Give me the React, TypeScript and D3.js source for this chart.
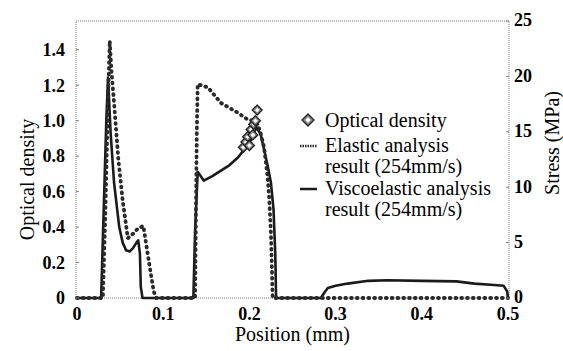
import * as d3 from "d3";

// Elastic analysis result (254mm/s), stress in MPa
const elasticX = [0, 0.03, 0.033, 0.036, 0.038, 0.04, 0.043, 0.048, 0.053, 0.059, 0.065, 0.071, 0.077, 0.081, 0.085, 0.089, 0.092, 0.137, 0.138, 0.139, 0.14, 0.152, 0.167, 0.187, 0.198, 0.205, 0.212, 0.217, 0.221, 0.223, 0.225, 0.227, 0.5];
const elasticY = [0, 0, 8, 18, 23.2, 20.5, 17.6, 12.5, 8.8, 5.4, 5.8, 6.3, 6.5, 4.5, 2.5, 0.6, 0, 0, 8, 15, 19.3, 19.0, 17.6, 16.7, 16.1, 16.0, 15.2, 13.6, 11, 9, 5.8, 0, 0];

// Viscoelastic analysis result (254mm/s), stress in MPa
const viscoX = [0, 0.028, 0.031, 0.034, 0.036, 0.039, 0.043, 0.049, 0.053, 0.057, 0.061, 0.065, 0.069, 0.071, 0.073, 0.074, 0.076, 0.135, 0.137, 0.14, 0.147, 0.157, 0.167, 0.177, 0.187, 0.195, 0.202, 0.208, 0.213, 0.217, 0.221, 0.225, 0.228, 0.23, 0.231, 0.283, 0.287, 0.291, 0.3, 0.314, 0.338, 0.36, 0.4, 0.44, 0.461, 0.48, 0.495, 0.499, 0.5];
const viscoY = [0, 0, 8, 16, 19.9, 14.9, 10.4, 6.4, 5.0, 4.3, 4.2, 4.5, 5.0, 5.2, 4, 1, 0, 0, 6, 11.4, 10.6, 11.0, 11.5, 12.0, 12.7, 13.5, 14.3, 15.4, 14.8, 13.4, 12, 10.4, 8, 4, 0, 0, 0.5, 0.9, 1.1, 1.3, 1.55, 1.6, 1.55, 1.5, 1.3, 1.2, 1.1, 0.6, 0];

// Optical density measurements
const odX = [0.193, 0.196, 0.198, 0.2, 0.202, 0.204, 0.205, 0.207, 0.209];
const odY = [0.85, 0.88, 0.91, 0.86, 0.95, 0.92, 0.98, 1.0, 1.06];

const xTicks = [0, 0.1, 0.2, 0.3, 0.4, 0.5];
const leftTicks = [0, 0.2, 0.4, 0.6, 0.8, 1.0, 1.2, 1.4];
const rightTicks = [0, 5, 10, 15, 20, 25];

const W = 563;
const H = 351;
const frame = { left: 76, right: 509, top: 21, bottom: 298 };
const serif = {
  fontFamily: "'Liberation Serif', LiberationSerif, Tinos, 'Times New Roman', Times, 'DejaVu Serif', 'Noto Serif', FreeSerif, serif",
};

function Diamond({ cx, cy, r }: { cx: number; cy: number; r: number }) {
  const p = (s: number) => `M${cx},${cy - s}L${cx + s},${cy}L${cx},${cy + s}L${cx - s},${cy}Z`;
  return (
    <g>
      <path d={p(r)} fill="#8a8a8a" stroke="#222" strokeWidth={1.3} />
      <path d={p(r * 0.45)} fill="#fff" />
    </g>
  );
}

export default function App() {
  const x = d3.scaleLinear().domain([0, 0.5]).range([frame.left + 1, frame.right - 1]);
  const yLeft = d3.scaleLinear().domain([0, 1.5625]).range([frame.bottom, frame.top]);
  const yRight = d3.scaleLinear().domain([0, 25]).range([frame.bottom, frame.top]);

  const line = d3
    .line<[number, number]>()
    .x((d) => x(d[0]))
    .y((d) => yRight(d[1]));

  const elastic = line(elasticX.map((v, i) => [v, elasticY[i]] as [number, number])) ?? "";
  const visco = line(viscoX.map((v, i) => [v, viscoY[i]] as [number, number])) ?? "";

  return (
    <svg width={W} height={H} style={{ position: "absolute", left: 0, top: 0, background: "#fff", ...serif }}>
      {/* plot frame */}
      <rect
        x={frame.left}
        y={frame.top}
        width={frame.right - frame.left}
        height={frame.bottom - frame.top}
        fill="none"
        stroke="#777"
        strokeWidth={1}
        strokeDasharray="1 1"
      />

      {/* curves */}
      <path d={visco} fill="none" stroke="#1a1a1a" strokeWidth={2.6} strokeLinejoin="round" />
      <path
        d={elastic}
        fill="none"
        stroke="#2a2a2a"
        strokeWidth={3.8}
        strokeLinecap="round"
        strokeDasharray="0.8 5"
      />

      {odX.map((v, i) => (
        <Diamond key={i} cx={x(v)} cy={yLeft(odY[i])} r={5} />
      ))}

      {/* left axis */}
      {leftTicks.map((t) => (
        <g key={t}>
          <line x1={frame.left} x2={frame.left + 3} y1={yLeft(t)} y2={yLeft(t)} stroke="#777" />
          <text x={65} y={yLeft(t)} dy="0.35em" textAnchor="end" fontSize={18} fontWeight="bold" style={serif}>
            {t === 0 ? "0" : t.toFixed(1)}
          </text>
        </g>
      ))}
      <text
        transform={`translate(27,${(frame.top + frame.bottom) / 2 + 20}) rotate(-90)`}
        textAnchor="middle"
        dy="0.35em"
        fontSize={20}
        style={serif}
      >
        Optical density
      </text>

      {/* right axis */}
      {rightTicks.map((t) => (
        <g key={t}>
          <line x1={frame.right - 3} x2={frame.right} y1={yRight(t)} y2={yRight(t)} stroke="#777" />
          <text x={frame.right + 5} y={yRight(t) - 1} dy="0.35em" textAnchor="start" fontSize={18} fontWeight="bold" style={serif}>
            {t}
          </text>
        </g>
      ))}
      <text transform="translate(552,143) rotate(-90)" textAnchor="middle" dy="0.35em" fontSize={20} style={serif}>
        Stress (MPa)
      </text>

      {/* bottom axis */}
      {xTicks.map((t) => (
        <text key={t} x={x(t)} y={320} textAnchor="middle" fontSize={18} fontWeight="bold" style={serif}>
          {t === 0 ? "0" : t.toFixed(1)}
        </text>
      ))}
      <text x={(frame.left + frame.right) / 2} y={341} textAnchor="middle" fontSize={20} style={serif}>
        Position (mm)
      </text>

      {/* legend */}
      <Diamond cx={308} cy={120} r={6} />
      <g fontSize={20} style={serif}>
        <text x={325} y={120} dy="0.35em">Optical density</text>
        <line x1={300} x2={317} y1={146} y2={146} stroke="#2a2a2a" strokeWidth={2.5} strokeDasharray="1.5 1" />
        <text x={325} y={145} dy="0.35em">Elastic analysis</text>
        <text x={325} y={166} dy="0.35em">result (254mm/s)</text>
        <line x1={300} x2={317} y1={189} y2={189} stroke="#1a1a1a" strokeWidth={2.5} />
        <text x={325} y={188} dy="0.35em">Viscoelastic analysis</text>
        <text x={325} y={209} dy="0.35em">result (254mm/s)</text>
      </g>
    </svg>
  );
}
